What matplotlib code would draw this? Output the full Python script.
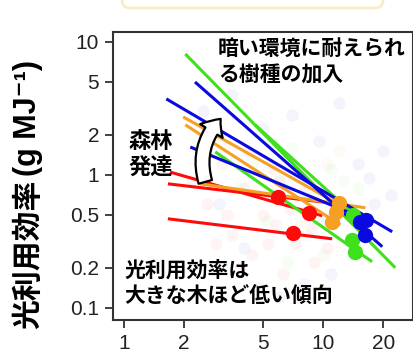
import matplotlib
matplotlib.use('Agg')
import matplotlib.pyplot as plt
from matplotlib.patches import FancyArrowPatch, FancyBboxPatch

plt.rcParams['font.family'] = ['Liberation Sans', 'DejaVu Sans']
JP = ['Noto Sans CJK JP', 'DejaVu Sans']

# regression lines per group: [x start, x end], [y start, y end]
red_x = [[1.70, 9.89], [1.66, 10.8], [1.66, 11.1]]
red_y = [[1.05, 0.492], [0.856, 0.616], [0.467, 0.330]]
orange_x = [[1.98, 12.9], [2.03, 12.2], [2.41, 16.3]]
orange_y = [[2.73, 0.565], [2.38, 0.42], [0.856, 0.565]]
green_x = [[2.03, 23.0], [2.87, 17.6], [4.55, 16.3]]
green_y = [[8.12, 0.20], [1.49, 0.222], [2.38, 0.42]]
blue_x = [[2.27, 19.8], [1.63, 22.2], [2.15, 15.7]]
blue_y = [[5.0, 0.288], [3.73, 0.373], [1.62, 0.475]]

# plot means
red_pt_x = [5.94, 8.51, 7.07]
red_pt_y = [0.684, 0.518, 0.366]
orange_pt_x = [12.0, 11.6, 11.1]
orange_pt_y = [0.616, 0.527, 0.443]
green_pt_x = [14.1, 14.0, 14.5]
green_pt_y = [0.50, 0.325, 0.264]
blue_pt_x = [15.3, 16.4, 16.3]
blue_pt_y = [0.443, 0.459, 0.354]

# faint individual trees in the background
red_bg_x = [2.2, 2.6, 3.1, 3.5, 4.0, 4.4, 5.0, 5.6, 6.3, 7.2, 8.0, 9.0, 3.3, 4.8, 6.0, 7.5, 2.9, 5.3, 8.8, 10.5, 4.2, 6.8, 3.8, 5.8]
red_bg_y = [0.9, 0.6, 1.2, 0.35, 0.8, 0.25, 0.5, 1.1, 0.18, 0.3, 0.75, 0.22, 0.5, 0.14, 0.9, 0.12, 0.3, 0.3, 0.4, 0.28, 1.5, 0.55, 0.2, 0.42]
green_bg_x = [3.0, 4.5, 6.0, 7.0, 9.0, 11.0, 13.0, 5.2, 8.2, 10.0, 12.5, 3.8, 6.6, 15.0]
green_bg_y = [2.0, 1.3, 0.9, 1.6, 0.7, 1.1, 0.6, 0.45, 0.35, 0.25, 0.9, 0.8, 0.22, 0.8]
blue_bg_x = [2.5, 3.5, 5.0, 7.0, 9.5, 12.0, 15.0, 18.0, 20.0, 11.0, 8.0, 6.0, 4.0, 14.0, 17.0, 22.0, 3.0, 10.0]
blue_bg_y = [3.0, 4.0, 2.2, 2.8, 1.8, 3.5, 1.2, 0.6, 1.5, 0.18, 0.15, 0.12, 0.28, 0.25, 0.95, 0.7, 0.6, 0.45]
orange_bg_x = [3.2, 4.6, 6.4, 8.5, 10.5, 5.5, 7.8, 12.0]
orange_bg_y = [1.6, 1.0, 1.3, 0.9, 1.2, 0.65, 0.45, 1.5]

x_ticks = [1, 2, 5, 10, 20]
y_ticks = [0.1, 0.2, 0.5, 1, 2, 5, 10]

RED = '#ff0a0a'
ORANGE = '#f5a025'
GREEN = '#3fe01c'
BLUE = '#0a0ae0'

fig = plt.figure(figsize=(4.14, 3.59), dpi=100)
ax = fig.add_axes([0.273, 0.109, 0.725, 0.802])
ax.set_xscale('log')
ax.set_yscale('log')

for bx, by, c in [(red_bg_x, red_bg_y, RED), (green_bg_x, green_bg_y, GREEN),
                  (blue_bg_x, blue_bg_y, BLUE), (orange_bg_x, orange_bg_y, ORANGE)]:
    ax.plot(bx, by, 'o', color=c, ms=9, alpha=0.045, mec='none')

for xs, ys, c in [(red_x, red_y, RED), (orange_x, orange_y, ORANGE),
                  (green_x, green_y, GREEN), (blue_x, blue_y, BLUE)]:
    for lx, ly in zip(xs, ys):
        ax.plot(lx, ly, '-', color=c, lw=2.2, solid_capstyle='butt')

for px, py, c in [(red_pt_x, red_pt_y, RED), (orange_pt_x, orange_pt_y, ORANGE),
                  (green_pt_x, green_pt_y, GREEN), (blue_pt_x, blue_pt_y, BLUE)]:
    ax.plot(px, py, 'o', color=c, ms=11, mec='none')

ax.set_xlim(0.88, 28.3)
ax.set_ylim(0.081, 11.9)
ax.set_xticks(x_ticks)
ax.set_xticklabels([str(v) for v in x_ticks])
ax.set_yticks(y_ticks)
ax.set_yticklabels([str(v) for v in y_ticks])
ax.minorticks_off()
ax.tick_params(length=6, width=1.3, color='#333333', labelcolor='#222222',
               labelsize=15, pad=4)
for s in ax.spines.values():
    s.set_linewidth(1.5)
    s.set_color('#333333')

ax.text(0.35, 0.894, '暗い環境に耐えられ\nる樹種の加入', transform=ax.transAxes,
        family=JP, fontweight='bold', fontsize=15, ha='left', va='center',
        linespacing=1.3)
ax.text(0.05, 0.575, '森林\n発達', transform=ax.transAxes,
        family=JP, fontweight='bold', fontsize=16, ha='left', va='center',
        linespacing=1.2)
ax.text(0.037, 0.127, '光利用効率は\n大きな木ほど低い傾向', transform=ax.transAxes,
        family=JP, fontweight='bold', fontsize=15, ha='left', va='center',
        linespacing=1.3)

arrow = FancyArrowPatch((0.31, 0.47), (0.365, 0.705), transform=ax.transAxes,
                        connectionstyle='arc3,rad=-0.3',
                        arrowstyle='simple,head_length=11,head_width=19,tail_width=10',
                        mutation_scale=1, fc='white', ec='black', lw=1.6, zorder=5)
ax.add_patch(arrow)

# y-axis label, split so the unit part uses a latin face
fig.text(0.068, 0.292, '光利用効率', rotation=90, family=JP,
         fontweight='bold', fontsize=21.5, ha='center', va='center')
fig.text(0.068, 0.672, '(g MJ⁻¹)', rotation=90,
         fontweight='bold', fontsize=22, ha='center', va='center')

banner = FancyBboxPatch((0.295, 1.0 - 8 / 359), 0.63, 0.1, transform=fig.transFigure,
                        boxstyle='round,pad=0,rounding_size=0.02',
                        fc='white', ec='#f8ecc8', lw=2, clip_on=False)
fig.patches.append(banner)

fig.savefig('out.png', dpi=100)
